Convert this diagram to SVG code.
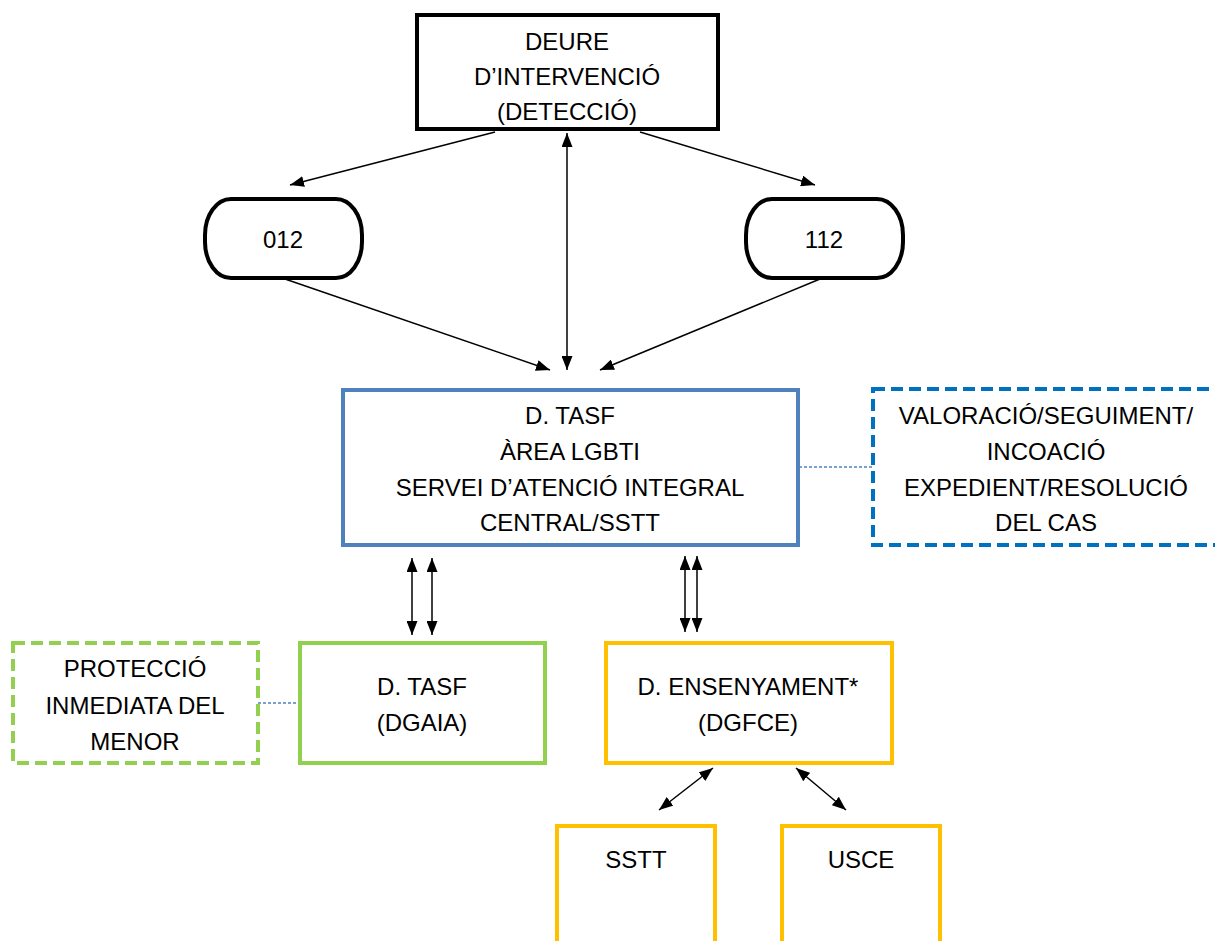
<svg xmlns="http://www.w3.org/2000/svg" width="1215" height="941" viewBox="0 0 1215 941">
<defs>
<marker id="ah" viewBox="0 0 14 11" refX="14" refY="5.5" markerWidth="14" markerHeight="11" markerUnits="userSpaceOnUse" orient="auto-start-reverse">
<path d="M0,0 L14,5.5 L0,11 Z" fill="#000"/>
</marker>
<style>
text{font-family:"Liberation Sans",Arial,sans-serif;font-size:24px;fill:#000;text-anchor:middle}
.blk{fill:#fff;stroke:#000;stroke-width:4}
.blue{fill:#fff;stroke:#4F81BD;stroke-width:4}
.bdash{fill:#fff;stroke:#0070C0;stroke-width:4;stroke-dasharray:12 6}
.green{fill:#fff;stroke:#92D050;stroke-width:4}
.gdash{fill:#fff;stroke:#92D050;stroke-width:4;stroke-dasharray:12 6}
.orange{fill:#fff;stroke:#FFC000;stroke-width:4}
.cs{stroke:#000;stroke-width:1.5;fill:none;marker-end:url(#ah)}
.cd{stroke:#000;stroke-width:1.5;fill:none;marker-start:url(#ah);marker-end:url(#ah)}
.dot{stroke:#4F81BD;stroke-width:1.5;stroke-dasharray:3 2;fill:none}
</style>
</defs>
<rect width="1215" height="941" fill="#fff"/>
<g id="connectors">
<line class="cs" x1="495" y1="132" x2="290" y2="185"/>
<line class="cs" x1="640" y1="132" x2="815" y2="185"/>
<line class="cd" x1="567" y1="133" x2="567" y2="370"/>
<line class="cs" x1="285" y1="279" x2="550" y2="370"/>
<line class="cs" x1="820" y1="279" x2="600" y2="370"/>
<line class="cd" x1="412" y1="558" x2="412" y2="635"/>
<line class="cd" x1="432" y1="558" x2="432" y2="635"/>
<line class="cd" x1="685" y1="556" x2="685" y2="632"/>
<line class="cd" x1="697" y1="556" x2="697" y2="632"/>
<line class="cd" x1="713" y1="768" x2="659" y2="810"/>
<line class="cd" x1="796" y1="768" x2="846" y2="810"/>
<line class="dot" x1="799" y1="467" x2="873" y2="467"/>
<line class="dot" x1="258" y1="703" x2="300" y2="703"/>
</g>
<g id="deure">
<rect class="blk" x="417" y="15" width="301" height="114"/>
<text x="567" y="50">DEURE</text>
<text x="567" y="85">D’INTERVENCIÓ</text>
<text x="567" y="120">(DETECCIÓ)</text>
</g>
<g id="n012">
<rect class="blk" x="205" y="199" width="157" height="79" rx="26" ry="36"/>
<text x="283" y="248">012</text>
</g>
<g id="n112">
<rect class="blk" x="746" y="199" width="157" height="79" rx="26" ry="36"/>
<text x="824" y="248">112</text>
</g>
<g id="tasf-central">
<rect class="blue" x="343" y="390" width="455" height="155"/>
<text x="570" y="424">D. TASF</text>
<text x="570" y="460">ÀREA LGBTI</text>
<text x="570" y="496">SERVEI D’ATENCIÓ INTEGRAL</text>
<text x="570" y="531">CENTRAL/SSTT</text>
</g>
<g id="valoracio">
<rect class="bdash" x="873" y="389" width="350" height="156"/>
<text x="1046" y="424">VALORACIÓ/SEGUIMENT/</text>
<text x="1046" y="460">INCOACIÓ</text>
<text x="1046" y="496">EXPEDIENT/RESOLUCIÓ</text>
<text x="1046" y="531">DEL CAS</text>
</g>
<g id="proteccio">
<rect class="gdash" x="13" y="643" width="245" height="120"/>
<text x="135" y="677">PROTECCIÓ</text>
<text x="135" y="714">INMEDIATA DEL</text>
<text x="135" y="750">MENOR</text>
</g>
<g id="dgaia">
<rect class="green" x="300" y="643" width="245" height="120"/>
<text x="422" y="695">D. TASF</text>
<text x="422" y="731">(DGAIA)</text>
</g>
<g id="ensenyament">
<rect class="orange" x="606" y="643" width="286" height="120"/>
<text x="748" y="695">D. ENSENYAMENT*</text>
<text x="748" y="731">(DGFCE)</text>
</g>
<g id="sstt">
<rect class="orange" x="557" y="826" width="158" height="140"/>
<text x="636" y="868">SSTT</text>
</g>
<g id="usce">
<rect class="orange" x="782" y="826" width="158" height="140"/>
<text x="861" y="868">USCE</text>
</g>
</svg>
